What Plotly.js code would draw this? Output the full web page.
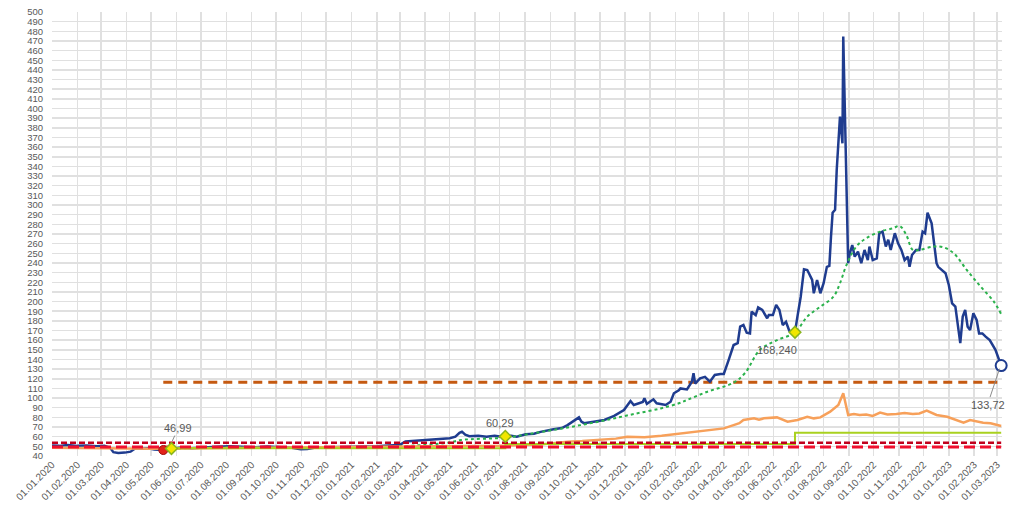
<!DOCTYPE html>
<html>
<head>
<meta charset="utf-8">
<script src="https://cdn.plot.ly/plotly-3.0.1.min.js"></script>
<style>html,body{margin:0;padding:0;background:#fff;}#chart{width:1020px;height:508px;}</style>
</head>
<body>
<div id="chart"></div>
<script>
// Main price series (blue)
const priceDates = ['2020-01-01','2020-01-10','2020-01-20','2020-02-01','2020-02-12','2020-02-25','2020-03-05','2020-03-12','2020-03-16','2020-03-22','2020-03-30','2020-04-06','2020-04-12','2020-04-20','2020-04-28','2020-05-05','2020-05-16','2020-05-26','2020-06-05','2020-06-20','2020-07-05','2020-07-20','2020-08-05','2020-08-20','2020-09-05','2020-09-20','2020-10-05','2020-10-20','2020-10-31','2020-11-08','2020-11-18','2020-12-01','2020-12-15','2021-01-01','2021-01-15','2021-02-01','2021-02-15','2021-03-01','2021-03-08','2021-03-15','2021-03-25','2021-04-05','2021-04-20','2021-05-01','2021-05-08','2021-05-13','2021-05-16','2021-05-20','2021-05-25','2021-06-05','2021-06-15','2021-06-25','2021-07-01','2021-07-08','2021-07-15','2021-07-22','2021-08-02','2021-08-12','2021-08-20','2021-09-05','2021-09-15','2021-09-22','2021-09-29','2021-10-06','2021-10-09','2021-10-12','2021-10-24','2021-11-06','2021-11-18','2021-11-30','2021-12-08','2021-12-12','2021-12-23','2021-12-25','2021-12-28','2022-01-05','2022-01-09','2022-01-20','2022-01-26','2022-01-30','2022-02-05','2022-02-07','2022-02-15','2022-02-21','2022-02-23','2022-02-25','2022-03-03','2022-03-09','2022-03-15','2022-03-21','2022-03-28','2022-04-01','2022-04-07','2022-04-13','2022-04-18','2022-04-21','2022-04-25','2022-04-29','2022-05-03','2022-05-05','2022-05-10','2022-05-13','2022-05-18','2022-05-24','2022-05-26','2022-05-31','2022-06-04','2022-06-08','2022-06-12','2022-06-16','2022-06-20','2022-06-27','2022-06-30','2022-07-04','2022-07-08','2022-07-12','2022-07-14','2022-07-18','2022-07-20','2022-07-24','2022-07-28','2022-08-01','2022-08-05','2022-08-08','2022-08-10','2022-08-12','2022-08-15','2022-08-17','2022-08-21','2022-08-24','2022-08-25','2022-08-29','2022-08-31','2022-09-02','2022-09-05','2022-09-08','2022-09-12','2022-09-16','2022-09-20','2022-09-24','2022-09-26','2022-09-30','2022-10-05','2022-10-08','2022-10-12','2022-10-16','2022-10-19','2022-10-22','2022-10-27','2022-10-31','2022-11-04','2022-11-08','2022-11-12','2022-11-14','2022-11-17','2022-11-22','2022-11-26','2022-11-30','2022-12-03','2022-12-06','2022-12-09','2022-12-11','2022-12-14','2022-12-17','2022-12-19','2022-12-24','2022-12-28','2023-01-01','2023-01-05','2023-01-09','2023-01-12','2023-01-15','2023-01-18','2023-01-21','2023-01-24','2023-01-27','2023-01-31','2023-02-04','2023-02-07','2023-02-11','2023-02-15','2023-02-20','2023-02-27','2023-03-06'];
const priceValues = [51,50.5,51.5,50.5,51,50,50.5,48.5,44,43.2,43.5,44.5,48,47.5,48,46.8,46.2,47.5,48.5,48,49,49.5,50,49.5,49,49.8,49.5,48.5,47,47.2,48.8,49,49.5,49.8,49.5,50.2,50.8,51.5,55,55.5,56,57,57.5,58.5,60,64,65.2,62,60.5,61,60,61,60.2,60.29,61,60,62.5,63,65,67.7,69,72,76,80,75.6,74,75.5,77.3,81.5,87.7,97,92.8,96,99.8,94,98.7,94.6,92.8,96.3,105,108,110,109,117,125.7,115,120.5,122,117,124,125,125,139.5,155,157,174,175.7,167.8,167,189.5,186,194,191.3,182.7,186,186,196.5,191.3,175.7,179,169.8,168.24,184.4,205,233.5,232.7,229.3,222.4,208.6,222.4,208.6,219,236,237,267,292,295,336,391.6,364,474.5,336,239.7,250,258.6,246.5,251.7,239.7,253.5,243,257,243,244.8,270.8,272.5,257,264,253.5,270.8,260.4,253.5,243,246.5,236,248.3,253.5,253.5,272.5,270.8,292,284.6,281,260.4,239.7,236,232.7,229.3,217.2,198.2,194.7,177.5,157,184.4,191.3,174,170.6,187.9,181,167,167,163.6,160,150,133.72];

// Moving average (green dotted)
const avgDates = ['2020-05-26','2020-07-01','2020-09-01','2020-11-01','2021-01-01','2021-03-01','2021-05-01','2021-05-15','2021-07-08','2021-08-04','2021-09-05','2021-10-08','2021-11-09','2021-12-12','2022-01-14','2022-02-05','2022-02-15','2022-03-10','2022-04-13','2022-04-27','2022-05-15','2022-06-05','2022-06-27','2022-07-12','2022-07-28','2022-08-13','2022-08-21','2022-08-29','2022-09-10','2022-09-22','2022-10-09','2022-10-25','2022-11-02','2022-11-10','2022-11-18','2022-11-26','2022-12-13','2022-12-25','2023-01-07','2023-01-23','2023-02-09','2023-02-25','2023-03-06'];
const avgValues = [47.5,48.5,49,48.5,49,50,54,56.6,59,62.5,67,72,77.3,83.5,89.3,94.6,98,106,116,126,149.8,160,168,184.4,194.7,205,219,238,257,265.6,272.5,276,278.3,269,253.5,253.5,257,256.3,250,232.7,215.4,200,187];

// Orange series
const orangeDates = ['2020-01-01','2020-03-01','2020-05-01','2020-07-01','2020-10-01','2021-01-01','2021-04-01','2021-07-01','2021-08-20','2021-09-22','2021-10-10','2021-11-01','2021-11-20','2021-12-04','2021-12-25','2022-01-15','2022-01-30','2022-02-07','2022-02-23','2022-03-08','2022-03-15','2022-04-01','2022-04-13','2022-04-20','2022-04-25','2022-05-08','2022-05-14','2022-05-20','2022-06-05','2022-06-10','2022-06-18','2022-06-30','2022-07-12','2022-07-20','2022-07-28','2022-08-09','2022-08-19','2022-08-25','2022-08-27','2022-08-31','2022-09-07','2022-09-14','2022-09-22','2022-09-30','2022-10-09','2022-10-18','2022-10-29','2022-11-08','2022-11-18','2022-11-26','2022-12-05','2022-12-17','2022-12-30','2023-01-11','2023-01-19','2023-01-27','2023-02-05','2023-02-12','2023-02-21','2023-03-06'];
const orangeValues = [48.5,48,47.5,48,48.5,49,49.5,50.5,52,54.8,55.5,56.6,58,60,59.5,61,62.5,63.5,65,66,67,68.6,72,74,77.3,79,77.5,79,80,78,75.6,77.3,80.7,79,80,85.9,92.8,105,96.3,82.5,83.5,82.5,83,81.5,84.9,83,83.5,84.5,83.5,84,87,82.5,80.7,77.3,74.5,77.3,75.6,74.5,74,71];

// Step series (yellow-green)
const stepDates = ['2020-05-26','2021-07-08','2022-06-27','2023-03-06'];
const stepValues = [48,52.5,64,64];

// Horizontal reference levels
const levelBrown = 116.4;
const levelDarkRed = 53.6;
const levelRed = 49.3;
const levelBrownStart = '2020-05-16';
const rangeStart = '2020-01-01';
const rangeEnd = '2023-03-06';

// Highlighted points
const redPointDate = ['2020-05-16'];
const redPointValue = [46.2];
const markDates = ['2020-05-26','2021-07-08','2022-06-27'];
const markValues = [47.8,60.29,168.24];
const lastDate = ['2023-03-06'];
const lastValue = [133.72];

// Labels
const labelTexts = ['46,99','60,29','168,240','133,72'];

const traces = [
  {x:[levelBrownStart,rangeEnd], y:[levelBrown,levelBrown], mode:'lines', line:{color:'#c55a11', width:3, dash:'9px,6px'}},
  {x:priceDates, y:priceValues, mode:'lines', line:{color:'#1f3c8f', width:2.5}},
  {x:avgDates, y:avgValues, mode:'lines', line:{color:'#2bb24c', width:2, dash:'dot', shape:'spline'}},
  {x:orangeDates, y:orangeValues, mode:'lines', line:{color:'#f7a05a', width:2.5}},
  {x:stepDates, y:stepValues, mode:'lines', line:{color:'#a9d11f', width:2, shape:'hv'}},
  {x:[rangeStart,rangeEnd], y:[levelDarkRed,levelDarkRed], mode:'lines', line:{color:'#c0001c', width:2.5, dash:'6px,3px'}},
  {x:[rangeStart,rangeEnd], y:[levelRed,levelRed], mode:'lines', line:{color:'#f0102e', width:3, dash:'11px,5px'}},
  {x:redPointDate, y:redPointValue, mode:'markers', cliponaxis:false, marker:{color:'#e2231a', size:9, line:{color:'#a01010', width:1}}},
  {x:markDates, y:markValues, mode:'markers', cliponaxis:false, marker:{symbol:'diamond', color:'#f2e600', size:9, line:{color:'#8ab51c', width:1.5}}},
  {x:lastDate, y:lastValue, mode:'markers', cliponaxis:false, marker:{symbol:'circle', color:'#ffffff', size:11, line:{color:'#1f3c8f', width:2}}}
];

const annFont = {family:'Liberation Sans, Arial, sans-serif', size:11, color:'#595959'};
const layout = {
  width:1020, height:508,
  margin:{l:52, r:18, t:12, b:52},
  paper_bgcolor:'#ffffff', plot_bgcolor:'#ffffff',
  showlegend:false,
  xaxis:{type:'date', range:['2020-01-01','2023-03-07'], tick0:'2020-01-01', dtick:'M1', tickformat:'%d.%m.%Y', tickangle:-45,
    showgrid:true, gridcolor:'#e0e0e0', gridwidth:1.5, zeroline:false, showline:false, ticks:'',
    tickfont:{family:'Liberation Sans, Arial, sans-serif', size:10, color:'#595959'}},
  yaxis:{range:[40,500], tick0:0, dtick:10, showgrid:true, gridcolor:'#e0e0e0', gridwidth:1.5, zeroline:false, showline:false, ticks:'',
    ticklabelstandoff:8,
    tickfont:{family:'Liberation Sans, Arial, sans-serif', size:9.5, color:'#595959'}},
  annotations:[
    {x:'2020-05-27', y:55.5, text:labelTexts[0], showarrow:true, arrowhead:0, arrowwidth:1, arrowcolor:'#8c8c8c', ax:6, ay:-13, font:annFont},
    {x:'2021-07-02', y:74.2, text:labelTexts[1], showarrow:false, font:annFont},
    {x:'2022-06-05', y:149.8, text:labelTexts[2], showarrow:false, font:annFont},
    {x:'2023-03-04', y:130.5, text:labelTexts[3], showarrow:true, arrowhead:0, arrowwidth:1, arrowcolor:'#8c8c8c', ax:-12, ay:36, font:annFont}
  ]
};

Plotly.newPlot('chart', traces, layout, {displayModeBar:false, staticPlot:true});
</script>
</body>
</html>
